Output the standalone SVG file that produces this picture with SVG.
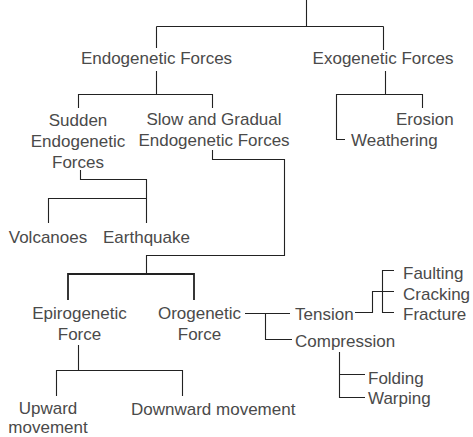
<svg xmlns="http://www.w3.org/2000/svg" width="473" height="437" viewBox="0 0 473 437">
<style>
text{font-family:"Liberation Sans",Arial,sans-serif;font-size:17px;fill:#4a4a4a}
.m{text-anchor:middle}
.c path{fill:none;stroke:#222;stroke-width:1.1}
.c path.t{stroke-width:1.8}
</style>
<rect width="473" height="437" fill="#fff"/>
<g class="c" id="connectors">
<path d="M306.5,0 V26.5 M156.5,26.5 H383.5 M156.5,26.5 V48 M383.5,26.5 V50"/>
<path d="M156.5,71 V94.5 M78.5,108 V94.5 H212.5 V108"/>
<path d="M385.5,71 V94.5 M345,139.5 H336.5 V94.5 H422.5 V108"/>
<path d="M80.5,170 V179.5 H146.5 V223 M48.5,223 V198.5 H146.5"/>
<path d="M212.5,150 V159.5 H284.5 V255.5 H146.5 V274"/>
<path class="t" d="M68,300 V274 H194 V300"/>
<path d="M245,313.5 H290 M265.5,313.5 V339.5 H292"/>
<path d="M355,312.5 H372.5 V291.5 H394 M394,270.5 H382.5 V312.5 H394"/>
<path d="M339.5,352 V397.5 H365 M339.5,374.5 H365"/>
<path d="M78.5,345 V370.5 M56.5,396 V370.5 H182.5 V396"/>
</g>
<g id="endogenetic"><text class="m" x="156.5" y="64">Endogenetic Forces</text></g>
<g id="exogenetic"><text class="m" x="383" y="64">Exogenetic Forces</text></g>
<g id="sudden"><text class="m" x="78"><tspan x="78" y="126">Sudden</tspan><tspan x="78" y="147">Endogenetic</tspan><tspan x="78" y="168">Forces</tspan></text></g>
<g id="slow"><text class="m"><tspan x="214" y="125">Slow and Gradual</tspan><tspan x="214" y="146">Endogenetic Forces</tspan></text></g>
<g id="erosion"><text x="396" y="125">Erosion</text></g>
<g id="weathering"><text x="351" y="146">Weathering</text></g>
<g id="volcanoes"><text class="m" x="48" y="243">Volcanoes</text></g>
<g id="earthquake"><text class="m" x="146.5" y="243">Earthquake</text></g>
<g id="epirogenetic"><text class="m"><tspan x="79.5" y="319">Epirogenetic</tspan><tspan x="79.5" y="340">Force</tspan></text></g>
<g id="orogenetic"><text class="m"><tspan x="199.5" y="319">Orogenetic</tspan><tspan x="199.5" y="340">Force</tspan></text></g>
<g id="tension"><text x="295" y="320">Tension</text></g>
<g id="compression"><text x="295" y="347">Compression</text></g>
<g id="faulting"><text x="403" y="279">Faulting</text></g>
<g id="cracking"><text x="403" y="300">Cracking</text></g>
<g id="fracture"><text x="403" y="320">Fracture</text></g>
<g id="folding"><text x="368" y="384">Folding</text></g>
<g id="warping"><text x="368" y="404">Warping</text></g>
<g id="upward"><text class="m"><tspan x="48" y="414">Upward</tspan><tspan x="48" y="433">movement</tspan></text></g>
<g id="downward"><text x="131" y="415">Downward movement</text></g>
</svg>
